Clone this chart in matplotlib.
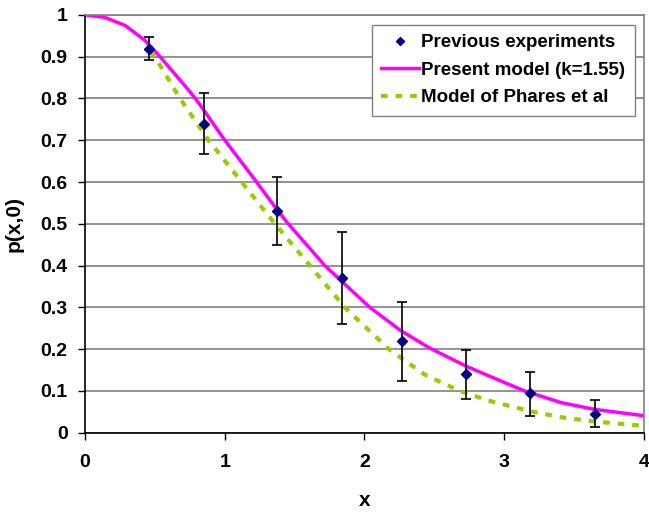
import numpy as np
import matplotlib.pyplot as plt

plt.rcParams['font.family'] = ['Liberation Sans', 'DejaVu Sans']
plt.rcParams['font.weight'] = 'bold'

# measured points with error bars
exp_x = [0.46, 0.849, 1.372, 1.839, 2.268, 2.726, 3.184, 3.649]
exp_y = [0.919, 0.739, 0.530, 0.370, 0.219, 0.141, 0.095, 0.046]
exp_hi = [0.948, 0.813, 0.612, 0.480, 0.313, 0.199, 0.145, 0.079]
exp_lo = [0.891, 0.667, 0.449, 0.261, 0.125, 0.081, 0.041, 0.013]

# present model (k=1.55)
model_x = [0.0, 0.143, 0.286, 0.429, 0.537, 0.716, 0.79, 0.859, 0.99, 1.228,
           1.372, 1.455, 1.717, 2.039, 2.254, 2.46, 2.731, 3.005, 3.148,
           3.411, 3.649, 4.0]
model_y = [1.0, 0.994, 0.975, 0.939, 0.900, 0.830, 0.800, 0.768, 0.705, 0.600,
           0.535, 0.500, 0.400, 0.300, 0.246, 0.204, 0.159, 0.120, 0.100,
           0.072, 0.056, 0.041]

# model of Phares et al
phares_x = [0.465, 0.50, 0.68, 0.885, 1.121, 1.36, 1.61, 1.86, 2.175, 2.433,
            2.683, 2.910, 3.029, 3.196, 3.411, 3.649, 3.98]
phares_y = [0.912, 0.900, 0.800, 0.700, 0.600, 0.500, 0.400, 0.300, 0.200, 0.139,
            0.100, 0.075, 0.065, 0.051, 0.037, 0.027, 0.017]

tick_labels = ['0', '0.1', '0.2', '0.3', '0.4', '0.5', '0.6', '0.7', '0.8', '0.9', '1']

fig = plt.figure(figsize=(6.49, 5.14), dpi=100)
ax = fig.add_axes([0.131, 0.158, 0.861, 0.813])

ax.set_axisbelow(True)
ax.grid(axis='y', color='#808080', linewidth=1.2)

yerr = [np.array(exp_y) - np.array(exp_lo), np.array(exp_hi) - np.array(exp_y)]
ax.errorbar(exp_x, exp_y, yerr=yerr, fmt='none', ecolor='black',
            elinewidth=1.2, capsize=3.5, capthick=1.2, zorder=3)
ax.plot(model_x, model_y, color='#FF00FF', linewidth=2.5,
        label='Present model (k=1.55)', zorder=2)
ax.plot(phares_x, phares_y, color='#99CC00', linewidth=3, linestyle=(0, (1.6, 1.9)),
        label='Model of Phares et al', zorder=2)
ax.plot(exp_x, exp_y, linestyle='none', marker='D', markersize=5.5,
        color='#000080', label='Previous experiments', zorder=4)

ax.set_xlim(0, 4)
ax.set_ylim(0, 1)
ax.set_xticks([0, 1, 2, 3, 4])
ax.set_yticks(np.arange(0, 1.01, 0.1))
ax.set_yticklabels(tick_labels)
ax.tick_params(labelsize=14, length=5, width=1, direction='out')
ax.tick_params(axis='x', pad=10)
ax.tick_params(axis='y', pad=7.5)

for side in ['top', 'right']:
    ax.spines[side].set_color('#808080')
    ax.spines[side].set_linewidth(1.2)
ax.spines['left'].set_linewidth(1.2)
ax.spines['bottom'].set_linewidth(1.2)

ax.set_xlabel('x', fontsize=15, fontweight='bold', labelpad=15)
ax.set_ylabel('p(x,0)', fontsize=15, fontweight='bold', labelpad=12)

handles, labels = ax.get_legend_handles_labels()
order = [2, 0, 1]
leg = ax.legend([handles[i] for i in order], [labels[i] for i in order],
                loc='upper right', bbox_to_anchor=(0.984, 0.976), fontsize=13.5,
                frameon=True, fancybox=False, edgecolor='#808080', markerscale=0.8,
                handlelength=2.0, handletextpad=0.15, borderpad=0.5,
                labelspacing=0.55, borderaxespad=0)
leg.get_frame().set_linewidth(1.0)
leg.get_frame().set_alpha(1)

fig.savefig('out.png', dpi=100)
